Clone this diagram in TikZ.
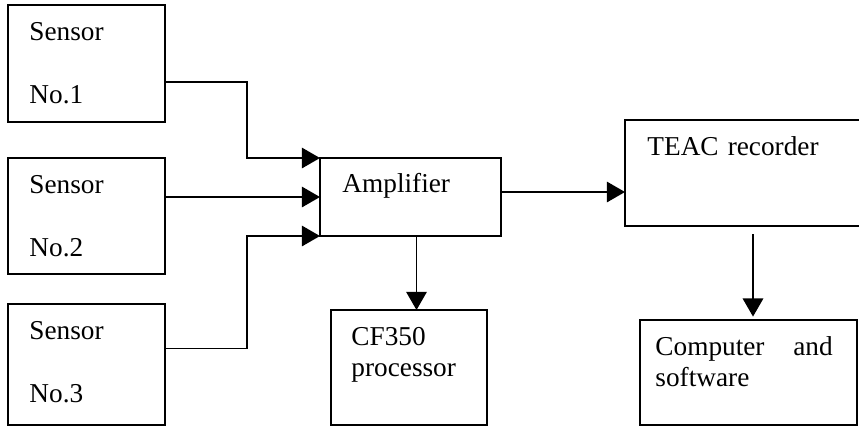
\documentclass[tikz,border=0pt]{standalone}
\usepackage{fontspec}
\setmainfont{Liberation Serif}
\usetikzlibrary{arrows.meta,calc}

\begin{document}
\begin{tikzpicture}[x=0.44pt,y=-0.44pt,line join=miter,>={Triangle[length=8pt,width=9pt]},
  blk/.style 2 args={draw,line width=0.9pt,anchor=north west,inner sep=0pt,outer sep=0pt,minimum width=#1*0.44pt,minimum height=#2*0.44pt},
  txt/.style={anchor=base west,inner sep=0pt,text width=100pt,align=left,font=\fontsize{12}{13.8}\selectfont},
  flow/.style={->,line width=0.8pt}]
\clip (0,0) rectangle (859,428);
% boxes
\node[blk={157}{117}] (s1) at (8,5) {};
\node[blk={157}{116}] (s2) at (8,158) {};
\node[blk={157}{121}] (s3) at (8,304) {};
\node[blk={181}{78}] (amp) at (320,158) {};
\node[blk={156}{115}] (cf) at (331,310) {};
\node[blk={250}{106}] (teac) at (625,120) {};
\node[blk={217}{105}] (pc) at (640,320) {};
% labels
\node[txt] (s1t) at ($(s1.north west)+(21,35)$) {Sensor\\[14.2pt]No.1};
\node[txt] (s2t) at ($(s2.north west)+(21,35)$) {Sensor\\[14.2pt]No.2};
\node[txt] (s3t) at ($(s3.north west)+(21,35)$) {Sensor\\[14.2pt]No.3};
\node[txt] (ampt) at ($(amp.north west)+(22,34)$) {Amplifier};
\node[txt] (cft) at ($(cf.north west)+(20,35)$) {CF350\\processor};
\node[txt] (teact) at ($(teac.north west)+(22,35)$) {TEAC recorder};
\node[txt] (pct) at ($(pc.north west)+(15,35)$) {\hbox to 78pt{Computer\hfill and}\\software};
% connectors
\coordinate (bus) at (247,0);
\draw[flow] ([shift={(0,18.5)}]s1.east) -| (bus |- amp.north west) -- (amp.north west);
\draw[flow] (s2.east |- amp.west) -- (amp.west);
\draw[flow] ([shift={(0,-16)}]s3.east) -| (bus |- amp.south west) -- (amp.south west);
\coordinate (ampout) at ([shift={(0,-5)}]amp.east);
\draw[flow] (ampout) -- (ampout -| teac.west);
\coordinate (ampdown) at ([shift={(6,0)}]amp.south);
\draw[flow] (ampdown) -- (ampdown |- cf.north);
\coordinate (teacdown) at ([shift={(3,8)}]teac.south);
\draw[flow,shorten >=1.5pt] (teacdown) -- (teacdown |- pc.north);
\end{tikzpicture}
\end{document}
